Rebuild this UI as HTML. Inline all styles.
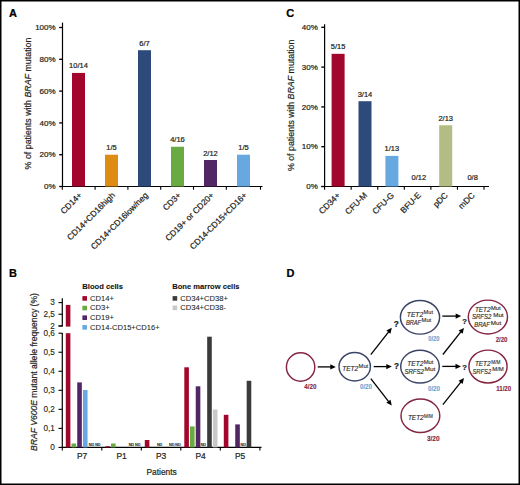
<!DOCTYPE html>
<html><head><meta charset="utf-8"><style>
html,body{margin:0;padding:0;background:#fff;width:520px;height:485px;overflow:hidden}
svg{display:block}
text{font-family:"Liberation Sans",sans-serif}
</style></head><body>
<svg width="520" height="485" viewBox="0 0 520 485">
<rect x="0" y="0" width="520" height="485" fill="#fff"/>
<text x="9.00" y="16.90" font-size="11" font-weight="bold" fill="#000" stroke="#000" stroke-width="0.22">A</text>
<line x1="62.50" y1="22.60" x2="62.50" y2="187.10" stroke="#000" stroke-width="1.2"/>
<line x1="59.20" y1="186.50" x2="62.50" y2="186.50" stroke="#000" stroke-width="1.35"/>
<text x="55.60" y="189.10" font-size="8" text-anchor="end" fill="#231f20" stroke="#231f20" stroke-width="0.22">0%</text>
<line x1="59.20" y1="154.70" x2="62.50" y2="154.70" stroke="#000" stroke-width="1.35"/>
<text x="55.60" y="157.30" font-size="8" text-anchor="end" fill="#231f20" stroke="#231f20" stroke-width="0.22">20%</text>
<line x1="59.20" y1="122.90" x2="62.50" y2="122.90" stroke="#000" stroke-width="1.35"/>
<text x="55.60" y="125.50" font-size="8" text-anchor="end" fill="#231f20" stroke="#231f20" stroke-width="0.22">40%</text>
<line x1="59.20" y1="91.10" x2="62.50" y2="91.10" stroke="#000" stroke-width="1.35"/>
<text x="55.60" y="93.70" font-size="8" text-anchor="end" fill="#231f20" stroke="#231f20" stroke-width="0.22">60%</text>
<line x1="59.20" y1="59.30" x2="62.50" y2="59.30" stroke="#000" stroke-width="1.35"/>
<text x="55.60" y="61.90" font-size="8" text-anchor="end" fill="#231f20" stroke="#231f20" stroke-width="0.22">80%</text>
<line x1="59.20" y1="27.50" x2="62.50" y2="27.50" stroke="#000" stroke-width="1.35"/>
<text x="55.60" y="30.10" font-size="8" text-anchor="end" fill="#231f20" stroke="#231f20" stroke-width="0.22">100%</text>
<line x1="61.90" y1="186.50" x2="262.50" y2="186.50" stroke="#000" stroke-width="1.2"/>
<line x1="62.30" y1="186.50" x2="62.30" y2="189.70" stroke="#000" stroke-width="1.1"/>
<line x1="95.10" y1="186.50" x2="95.10" y2="189.70" stroke="#000" stroke-width="1.1"/>
<line x1="127.90" y1="186.50" x2="127.90" y2="189.70" stroke="#000" stroke-width="1.1"/>
<line x1="160.70" y1="186.50" x2="160.70" y2="189.70" stroke="#000" stroke-width="1.1"/>
<line x1="193.50" y1="186.50" x2="193.50" y2="189.70" stroke="#000" stroke-width="1.1"/>
<line x1="226.30" y1="186.50" x2="226.30" y2="189.70" stroke="#000" stroke-width="1.1"/>
<line x1="260.50" y1="186.50" x2="260.50" y2="189.70" stroke="#000" stroke-width="1.1"/>
<rect x="72.00" y="72.93" width="13.00" height="113.57" fill="#a3062c"/>
<text x="78.50" y="68.43" font-size="7.5" text-anchor="middle" fill="#231f20" stroke="#231f20" stroke-width="0.22">10/14</text>
<text x="82.50" y="195.80" font-size="8.4" text-anchor="end" fill="#231f20" stroke="#231f20" stroke-width="0.22" transform="rotate(-45 82.50 195.80)">CD14+</text>
<rect x="105.00" y="154.70" width="13.00" height="31.80" fill="#de8c14"/>
<text x="111.50" y="150.20" font-size="7.5" text-anchor="middle" fill="#231f20" stroke="#231f20" stroke-width="0.22">1/5</text>
<text x="115.50" y="195.80" font-size="8.4" text-anchor="end" fill="#231f20" stroke="#231f20" stroke-width="0.22" transform="rotate(-45 115.50 195.80)">CD14+CD16high</text>
<rect x="138.00" y="50.21" width="13.00" height="136.29" fill="#2d4a7a"/>
<text x="144.50" y="45.71" font-size="7.5" text-anchor="middle" fill="#231f20" stroke="#231f20" stroke-width="0.22">6/7</text>
<text x="148.50" y="195.80" font-size="8.4" text-anchor="end" fill="#231f20" stroke="#231f20" stroke-width="0.22" transform="rotate(-45 148.50 195.80)">CD14+CD16low/neg</text>
<rect x="171.00" y="146.75" width="13.00" height="39.75" fill="#6aaa42"/>
<text x="177.50" y="142.25" font-size="7.5" text-anchor="middle" fill="#231f20" stroke="#231f20" stroke-width="0.22">4/16</text>
<text x="181.50" y="195.80" font-size="8.4" text-anchor="end" fill="#231f20" stroke="#231f20" stroke-width="0.22" transform="rotate(-45 181.50 195.80)">CD3+</text>
<rect x="204.00" y="160.00" width="13.00" height="26.50" fill="#522664"/>
<text x="210.50" y="155.50" font-size="7.5" text-anchor="middle" fill="#231f20" stroke="#231f20" stroke-width="0.22">2/12</text>
<text x="214.50" y="195.80" font-size="8.4" text-anchor="end" fill="#231f20" stroke="#231f20" stroke-width="0.22" transform="rotate(-45 214.50 195.80)">CD19+ or CD20+</text>
<rect x="237.00" y="154.70" width="13.00" height="31.80" fill="#68a8e0"/>
<text x="243.50" y="150.20" font-size="7.5" text-anchor="middle" fill="#231f20" stroke="#231f20" stroke-width="0.22">1/5</text>
<text x="247.50" y="195.80" font-size="8.4" text-anchor="end" fill="#231f20" stroke="#231f20" stroke-width="0.22" transform="rotate(-45 247.50 195.80)">CD14-CD15+CD16+</text>
<text x="30.7" y="169.4" font-size="9.4" fill="#231f20" stroke="#231f20" stroke-width="0.2" textLength="131.8" lengthAdjust="spacingAndGlyphs" transform="rotate(-90 30.7 169.4)">% of patients with <tspan font-style="italic">BRAF</tspan> mutation</text>
<text x="286.30" y="16.90" font-size="11" font-weight="bold" fill="#000" stroke="#000" stroke-width="0.22">C</text>
<line x1="324.60" y1="24.20" x2="324.60" y2="187.10" stroke="#000" stroke-width="1.2"/>
<line x1="321.30" y1="186.50" x2="324.60" y2="186.50" stroke="#000" stroke-width="1.35"/>
<text x="317.80" y="189.10" font-size="8" text-anchor="end" fill="#231f20" stroke="#231f20" stroke-width="0.22">0%</text>
<line x1="321.30" y1="146.70" x2="324.60" y2="146.70" stroke="#000" stroke-width="1.35"/>
<text x="317.80" y="149.30" font-size="8" text-anchor="end" fill="#231f20" stroke="#231f20" stroke-width="0.22">10%</text>
<line x1="321.30" y1="106.90" x2="324.60" y2="106.90" stroke="#000" stroke-width="1.35"/>
<text x="317.80" y="109.50" font-size="8" text-anchor="end" fill="#231f20" stroke="#231f20" stroke-width="0.22">20%</text>
<line x1="321.30" y1="67.10" x2="324.60" y2="67.10" stroke="#000" stroke-width="1.35"/>
<text x="317.80" y="69.70" font-size="8" text-anchor="end" fill="#231f20" stroke="#231f20" stroke-width="0.22">30%</text>
<line x1="321.30" y1="27.30" x2="324.60" y2="27.30" stroke="#000" stroke-width="1.35"/>
<text x="317.80" y="29.90" font-size="8" text-anchor="end" fill="#231f20" stroke="#231f20" stroke-width="0.22">40%</text>
<line x1="321.30" y1="186.50" x2="489.00" y2="186.50" stroke="#000" stroke-width="1.2"/>
<line x1="324.60" y1="186.50" x2="324.60" y2="189.70" stroke="#000" stroke-width="1.1"/>
<line x1="351.17" y1="186.50" x2="351.17" y2="189.70" stroke="#000" stroke-width="1.1"/>
<line x1="377.74" y1="186.50" x2="377.74" y2="189.70" stroke="#000" stroke-width="1.1"/>
<line x1="404.31" y1="186.50" x2="404.31" y2="189.70" stroke="#000" stroke-width="1.1"/>
<line x1="430.88" y1="186.50" x2="430.88" y2="189.70" stroke="#000" stroke-width="1.1"/>
<line x1="457.45" y1="186.50" x2="457.45" y2="189.70" stroke="#000" stroke-width="1.1"/>
<line x1="484.02" y1="186.50" x2="484.02" y2="189.70" stroke="#000" stroke-width="1.1"/>
<rect x="331.60" y="53.83" width="13.00" height="132.67" fill="#a3062c"/>
<text x="338.10" y="49.33" font-size="7.5" text-anchor="middle" fill="#231f20" stroke="#231f20" stroke-width="0.22">5/15</text>
<text x="340.80" y="195.90" font-size="8.4" text-anchor="end" fill="#231f20" stroke="#231f20" stroke-width="0.22" transform="rotate(-45 340.80 195.90)">CD34+</text>
<rect x="358.50" y="101.21" width="13.00" height="85.29" fill="#2d4a7a"/>
<text x="365.00" y="96.71" font-size="7.5" text-anchor="middle" fill="#231f20" stroke="#231f20" stroke-width="0.22">3/14</text>
<text x="367.70" y="195.90" font-size="8.4" text-anchor="end" fill="#231f20" stroke="#231f20" stroke-width="0.22" transform="rotate(-45 367.70 195.90)">CFU-M</text>
<rect x="385.40" y="155.88" width="13.00" height="30.62" fill="#68a8e0"/>
<text x="391.90" y="151.38" font-size="7.5" text-anchor="middle" fill="#231f20" stroke="#231f20" stroke-width="0.22">1/13</text>
<text x="394.60" y="195.90" font-size="8.4" text-anchor="end" fill="#231f20" stroke="#231f20" stroke-width="0.22" transform="rotate(-45 394.60 195.90)">CFU-G</text>
<text x="418.80" y="180.00" font-size="7.5" text-anchor="middle" fill="#231f20" stroke="#231f20" stroke-width="0.22">0/12</text>
<text x="421.50" y="195.90" font-size="8.4" text-anchor="end" fill="#231f20" stroke="#231f20" stroke-width="0.22" transform="rotate(-45 421.50 195.90)">BFU-E</text>
<rect x="439.20" y="125.27" width="13.00" height="61.23" fill="#b2bc84"/>
<text x="445.70" y="120.77" font-size="7.5" text-anchor="middle" fill="#231f20" stroke="#231f20" stroke-width="0.22">2/13</text>
<text x="448.40" y="195.90" font-size="8.4" text-anchor="end" fill="#231f20" stroke="#231f20" stroke-width="0.22" transform="rotate(-45 448.40 195.90)">pDC</text>
<text x="472.60" y="180.00" font-size="7.5" text-anchor="middle" fill="#231f20" stroke="#231f20" stroke-width="0.22">0/8</text>
<text x="475.30" y="195.90" font-size="8.4" text-anchor="end" fill="#231f20" stroke="#231f20" stroke-width="0.22" transform="rotate(-45 475.30 195.90)">mDC</text>
<text x="294.2" y="171.1" font-size="9.4" fill="#231f20" stroke="#231f20" stroke-width="0.2" textLength="131.5" lengthAdjust="spacingAndGlyphs" transform="rotate(-90 294.2 171.1)">% of patients with <tspan font-style="italic">BRAF</tspan> mutation</text>
<text x="9.00" y="276.90" font-size="11" font-weight="bold" fill="#000" stroke="#000" stroke-width="0.22">B</text>
<line x1="62.30" y1="298.20" x2="62.30" y2="326.40" stroke="#000" stroke-width="1.2"/>
<line x1="58.50" y1="302.60" x2="62.30" y2="302.60" stroke="#000" stroke-width="1.1"/>
<text x="54.90" y="305.30" font-size="8.2" text-anchor="end" fill="#231f20" stroke="#231f20" stroke-width="0.12">3</text>
<line x1="58.50" y1="314.25" x2="62.30" y2="314.25" stroke="#000" stroke-width="1.1"/>
<text x="54.90" y="316.95" font-size="8.2" text-anchor="end" fill="#231f20" stroke="#231f20" stroke-width="0.12">2,5</text>
<line x1="58.50" y1="325.90" x2="62.30" y2="325.90" stroke="#000" stroke-width="1.1"/>
<text x="54.90" y="328.60" font-size="8.2" text-anchor="end" fill="#231f20" stroke="#231f20" stroke-width="0.12">2</text>
<line x1="58.50" y1="326.00" x2="62.30" y2="326.00" stroke="#000" stroke-width="1.1"/>
<line x1="62.30" y1="333.00" x2="62.30" y2="447.40" stroke="#000" stroke-width="1.2"/>
<line x1="58.50" y1="447.40" x2="62.30" y2="447.40" stroke="#000" stroke-width="1.1"/>
<text x="54.90" y="450.10" font-size="8.2" text-anchor="end" fill="#231f20" stroke="#231f20" stroke-width="0.12">0</text>
<line x1="58.50" y1="428.37" x2="62.30" y2="428.37" stroke="#000" stroke-width="1.1"/>
<text x="54.90" y="431.07" font-size="8.2" text-anchor="end" fill="#231f20" stroke="#231f20" stroke-width="0.12">0,1</text>
<line x1="58.50" y1="409.34" x2="62.30" y2="409.34" stroke="#000" stroke-width="1.1"/>
<text x="54.90" y="412.04" font-size="8.2" text-anchor="end" fill="#231f20" stroke="#231f20" stroke-width="0.12">0,2</text>
<line x1="58.50" y1="390.31" x2="62.30" y2="390.31" stroke="#000" stroke-width="1.1"/>
<text x="54.90" y="393.01" font-size="8.2" text-anchor="end" fill="#231f20" stroke="#231f20" stroke-width="0.12">0,3</text>
<line x1="58.50" y1="371.28" x2="62.30" y2="371.28" stroke="#000" stroke-width="1.1"/>
<text x="54.90" y="373.98" font-size="8.2" text-anchor="end" fill="#231f20" stroke="#231f20" stroke-width="0.12">0,4</text>
<line x1="58.50" y1="352.25" x2="62.30" y2="352.25" stroke="#000" stroke-width="1.1"/>
<text x="54.90" y="354.95" font-size="8.2" text-anchor="end" fill="#231f20" stroke="#231f20" stroke-width="0.12">0,5</text>
<line x1="58.50" y1="333.22" x2="62.30" y2="333.22" stroke="#000" stroke-width="1.1"/>
<text x="54.90" y="335.92" font-size="8.2" text-anchor="end" fill="#231f20" stroke="#231f20" stroke-width="0.12">0,6</text>
<line x1="61.70" y1="447.40" x2="261.50" y2="447.40" stroke="#000" stroke-width="1.2"/>
<line x1="62.30" y1="447.40" x2="62.30" y2="450.60" stroke="#000" stroke-width="1.1"/>
<line x1="101.80" y1="447.40" x2="101.80" y2="450.60" stroke="#000" stroke-width="1.1"/>
<line x1="141.30" y1="447.40" x2="141.30" y2="450.60" stroke="#000" stroke-width="1.1"/>
<line x1="180.80" y1="447.40" x2="180.80" y2="450.60" stroke="#000" stroke-width="1.1"/>
<line x1="220.30" y1="447.40" x2="220.30" y2="450.60" stroke="#000" stroke-width="1.1"/>
<line x1="259.90" y1="447.40" x2="259.90" y2="450.60" stroke="#000" stroke-width="1.1"/>
<rect x="65.80" y="333.20" width="4.60" height="114.20" fill="#a3062c"/>
<rect x="65.80" y="304.93" width="4.60" height="21.67" fill="#a3062c"/>
<rect x="71.52" y="443.50" width="4.60" height="3.90" fill="#6aaa42"/>
<rect x="77.24" y="382.40" width="4.60" height="65.00" fill="#522664"/>
<rect x="82.96" y="390.00" width="4.60" height="57.40" fill="#68a8e0"/>
<text x="82.05" y="459.10" font-size="8.4" text-anchor="middle" fill="#231f20" stroke="#231f20" stroke-width="0.22">P7</text>
<rect x="105.30" y="446.20" width="4.60" height="1.20" fill="#a3062c"/>
<rect x="111.02" y="443.50" width="4.60" height="3.90" fill="#6aaa42"/>
<text x="121.55" y="459.10" font-size="8.4" text-anchor="middle" fill="#231f20" stroke="#231f20" stroke-width="0.22">P1</text>
<rect x="144.80" y="440.00" width="4.60" height="7.40" fill="#a3062c"/>
<text x="161.05" y="459.10" font-size="8.4" text-anchor="middle" fill="#231f20" stroke="#231f20" stroke-width="0.22">P3</text>
<rect x="184.30" y="367.30" width="4.60" height="80.10" fill="#a3062c"/>
<rect x="190.02" y="426.40" width="4.60" height="21.00" fill="#6aaa42"/>
<rect x="195.74" y="386.30" width="4.60" height="61.10" fill="#522664"/>
<rect x="207.18" y="336.70" width="4.60" height="110.70" fill="#3c3b3c"/>
<rect x="212.90" y="409.50" width="4.60" height="37.90" fill="#c8c8c8"/>
<text x="200.55" y="459.10" font-size="8.4" text-anchor="middle" fill="#231f20" stroke="#231f20" stroke-width="0.22">P4</text>
<rect x="223.80" y="414.80" width="4.60" height="32.60" fill="#a3062c"/>
<rect x="235.24" y="424.40" width="4.60" height="23.00" fill="#522664"/>
<rect x="246.68" y="380.80" width="4.60" height="66.60" fill="#3c3b3c"/>
<text x="240.05" y="459.10" font-size="8.4" text-anchor="middle" fill="#231f20" stroke="#231f20" stroke-width="0.22">P5</text>
<text x="88.80" y="445.80" font-size="3.7" fill="#000" stroke="#000" stroke-width="0.15">ND ND</text>
<text x="128.70" y="445.80" font-size="3.7" fill="#000" stroke="#000" stroke-width="0.15">ND ND</text>
<text x="156.90" y="445.80" font-size="3.7" fill="#000" stroke="#000" stroke-width="0.15">ND</text>
<text x="169.00" y="445.80" font-size="3.7" fill="#000" stroke="#000" stroke-width="0.15">ND ND</text>
<text x="200.70" y="445.80" font-size="3.7" fill="#000" stroke="#000" stroke-width="0.15">ND</text>
<text x="240.50" y="445.80" font-size="3.7" fill="#000" stroke="#000" stroke-width="0.15">ND</text>
<text x="146.40" y="475.10" font-size="9.6" fill="#231f20" stroke="#231f20" stroke-width="0.22" textLength="30.4" lengthAdjust="spacingAndGlyphs">Patients</text>
<text x="82.30" y="289.10" font-size="7.8" font-weight="bold" fill="#111" stroke="#111" stroke-width="0.1" textLength="40.6" lengthAdjust="spacingAndGlyphs">Blood cells</text>
<rect x="82.40" y="296.10" width="4.60" height="4.60" fill="#a3062c"/>
<text x="90.00" y="300.80" font-size="7.6" fill="#231f20" stroke="#231f20" stroke-width="0.08">CD14+</text>
<rect x="82.40" y="305.75" width="4.60" height="4.60" fill="#6aaa42"/>
<text x="90.00" y="310.45" font-size="7.6" fill="#231f20" stroke="#231f20" stroke-width="0.08">CD3+</text>
<rect x="82.40" y="315.40" width="4.60" height="4.60" fill="#522664"/>
<text x="90.00" y="320.10" font-size="7.6" fill="#231f20" stroke="#231f20" stroke-width="0.08">CD19+</text>
<rect x="82.40" y="325.05" width="4.60" height="4.60" fill="#68a8e0"/>
<text x="90.00" y="329.75" font-size="7.6" fill="#231f20" stroke="#231f20" stroke-width="0.08">CD14-CD15+CD16+</text>
<text x="172.30" y="289.10" font-size="7.8" font-weight="bold" fill="#111" stroke="#111" stroke-width="0.1" textLength="67.2" lengthAdjust="spacingAndGlyphs">Bone marrow cells</text>
<rect x="172.60" y="296.10" width="4.60" height="4.60" fill="#3c3b3c"/>
<text x="180.20" y="300.80" font-size="7.6" fill="#231f20" stroke="#231f20" stroke-width="0.08">CD34+CD38+</text>
<rect x="172.60" y="305.50" width="4.60" height="4.60" fill="#c8c8c8"/>
<text x="180.20" y="310.20" font-size="7.6" fill="#231f20" stroke="#231f20" stroke-width="0.08">CD34+CD38-</text>
<text x="37.4" y="451.0" font-size="9.4" fill="#231f20" stroke="#231f20" stroke-width="0.2" textLength="158.0" lengthAdjust="spacingAndGlyphs" transform="rotate(-90 37.4 451.0)"><tspan font-style="italic">BRAF V600E</tspan> mutant allele frequency (%)</text>
<text x="286.40" y="277.30" font-size="11" font-weight="bold" fill="#000" stroke="#000" stroke-width="0.22">D</text>
<ellipse cx="300.6" cy="367" rx="14.2" ry="14.2" fill="none" stroke="#842541" stroke-width="1.45"/>
<ellipse cx="354.7" cy="366.7" rx="15.7" ry="14.2" fill="none" stroke="#3b4466" stroke-width="1.45"/>
<ellipse cx="420" cy="317.3" rx="19.6" ry="16.8" fill="none" stroke="#3b4466" stroke-width="1.45"/>
<ellipse cx="420" cy="366.6" rx="19.3" ry="16.4" fill="none" stroke="#3b4466" stroke-width="1.45"/>
<ellipse cx="420.4" cy="415.8" rx="19.4" ry="16.7" fill="none" stroke="#842541" stroke-width="1.45"/>
<ellipse cx="487.9" cy="317" rx="19.6" ry="16.9" fill="none" stroke="#842541" stroke-width="1.45"/>
<ellipse cx="488" cy="366.5" rx="19.1" ry="16.4" fill="none" stroke="#842541" stroke-width="1.45"/>
<line x1="317.70" y1="366.90" x2="331.30" y2="366.90" stroke="#000" stroke-width="1.3"/>
<polygon points="335.80,366.90 330.30,369.50 330.30,364.30" fill="#000"/>
<line x1="373.70" y1="366.60" x2="387.30" y2="366.60" stroke="#000" stroke-width="1.3"/>
<polygon points="391.80,366.60 386.30,369.20 386.30,364.00" fill="#000"/>
<line x1="370.80" y1="354.60" x2="389.02" y2="331.34" stroke="#000" stroke-width="1.3"/>
<polygon points="391.80,327.80 390.45,333.73 386.36,330.53" fill="#000"/>
<line x1="370.80" y1="378.60" x2="389.04" y2="402.05" stroke="#000" stroke-width="1.3"/>
<polygon points="391.80,405.60 386.37,402.85 390.48,399.66" fill="#000"/>
<line x1="442.30" y1="316.10" x2="456.70" y2="316.10" stroke="#000" stroke-width="1.3"/>
<polygon points="461.20,316.10 455.70,318.70 455.70,313.50" fill="#000"/>
<line x1="442.90" y1="354.50" x2="461.20" y2="331.43" stroke="#000" stroke-width="1.3"/>
<polygon points="464.00,327.90 462.62,333.82 458.55,330.59" fill="#000"/>
<line x1="442.30" y1="366.40" x2="456.50" y2="366.40" stroke="#000" stroke-width="1.3"/>
<polygon points="461.00,366.40 455.50,369.00 455.50,363.80" fill="#000"/>
<line x1="442.90" y1="404.60" x2="461.20" y2="381.53" stroke="#000" stroke-width="1.3"/>
<polygon points="464.00,378.00 462.62,383.92 458.55,380.69" fill="#000"/>
<text x="393.80" y="327.10" font-size="8.2" font-weight="bold" fill="#1a1a1a" stroke="#1a1a1a" stroke-width="0.22">?</text>
<text x="393.90" y="368.90" font-size="8.2" font-weight="bold" fill="#1a1a1a" stroke="#1a1a1a" stroke-width="0.22">?</text>
<text x="462.20" y="323.70" font-size="7.6" font-weight="bold" fill="#1a1a1a" stroke="#1a1a1a" stroke-width="0.22">?</text>
<text x="462.20" y="369.60" font-size="7.6" font-weight="bold" fill="#1a1a1a" stroke="#1a1a1a" stroke-width="0.22">?</text>
<text x="304.30" y="388.90" font-size="6.8" font-weight="bold" fill="#842541" stroke="#842541" stroke-width="0.1" textLength="12.2" lengthAdjust="spacingAndGlyphs">4/20</text>
<text x="359.90" y="388.70" font-size="6.8" font-weight="bold" fill="#6fa3d2" stroke="#6fa3d2" stroke-width="0.1" textLength="12.2" lengthAdjust="spacingAndGlyphs">0/20</text>
<text x="428.20" y="340.70" font-size="6.8" font-weight="bold" fill="#6fa3d2" stroke="#6fa3d2" stroke-width="0.1" textLength="11.4" lengthAdjust="spacingAndGlyphs">0/20</text>
<text x="427.90" y="390.60" font-size="6.8" font-weight="bold" fill="#6fa3d2" stroke="#6fa3d2" stroke-width="0.1" textLength="12.2" lengthAdjust="spacingAndGlyphs">0/20</text>
<text x="426.90" y="440.60" font-size="6.8" font-weight="bold" fill="#842541" stroke="#842541" stroke-width="0.1" textLength="12.8" lengthAdjust="spacingAndGlyphs">3/20</text>
<text x="495.70" y="341.50" font-size="6.8" font-weight="bold" fill="#842541" stroke="#842541" stroke-width="0.1" textLength="11.8" lengthAdjust="spacingAndGlyphs">2/20</text>
<text x="496.20" y="391.20" font-size="6.8" font-weight="bold" fill="#842541" stroke="#842541" stroke-width="0.1" textLength="15.0" lengthAdjust="spacingAndGlyphs">11/20</text>
<text x="342.20" y="370.70" font-size="6.8" font-style="italic" fill="#2a2a2a" stroke="#2a2a2a" stroke-width="0.15" textLength="16.0" lengthAdjust="spacingAndGlyphs">TET2</text>
<text x="358.60" y="368.20" font-size="4.8" fill="#2a2a2a" stroke="#2a2a2a" stroke-width="0.1" textLength="9.6" lengthAdjust="spacingAndGlyphs">Mut</text>
<text x="406.80" y="316.70" font-size="6.8" font-style="italic" fill="#2a2a2a" stroke="#2a2a2a" stroke-width="0.15" textLength="16.4" lengthAdjust="spacingAndGlyphs">TET2</text>
<text x="423.60" y="314.20" font-size="4.8" fill="#2a2a2a" stroke="#2a2a2a" stroke-width="0.1" textLength="9.4" lengthAdjust="spacingAndGlyphs">Mut</text>
<text x="405.90" y="324.50" font-size="6.8" font-style="italic" fill="#2a2a2a" stroke="#2a2a2a" stroke-width="0.15" textLength="15.2" lengthAdjust="spacingAndGlyphs">BRAF</text>
<text x="421.60" y="322.00" font-size="4.8" fill="#2a2a2a" stroke="#2a2a2a" stroke-width="0.1" textLength="9.6" lengthAdjust="spacingAndGlyphs">Mut</text>
<text x="407.30" y="366.00" font-size="6.8" font-style="italic" fill="#2a2a2a" stroke="#2a2a2a" stroke-width="0.15" textLength="16.0" lengthAdjust="spacingAndGlyphs">TET2</text>
<text x="423.80" y="363.50" font-size="4.8" fill="#2a2a2a" stroke="#2a2a2a" stroke-width="0.1" textLength="9.6" lengthAdjust="spacingAndGlyphs">Mut</text>
<text x="404.40" y="373.80" font-size="6.8" font-style="italic" fill="#2a2a2a" stroke="#2a2a2a" stroke-width="0.15" textLength="19.6" lengthAdjust="spacingAndGlyphs">SRFS2</text>
<text x="424.60" y="371.30" font-size="4.8" fill="#2a2a2a" stroke="#2a2a2a" stroke-width="0.1" textLength="10.8" lengthAdjust="spacingAndGlyphs">Mut</text>
<text x="407.90" y="420.00" font-size="6.8" font-style="italic" fill="#2a2a2a" stroke="#2a2a2a" stroke-width="0.15" textLength="15.8" lengthAdjust="spacingAndGlyphs">TET2</text>
<text x="424.00" y="417.50" font-size="4.8" fill="#2a2a2a" stroke="#2a2a2a" stroke-width="0.1" textLength="8.8" lengthAdjust="spacingAndGlyphs">M/M</text>
<text x="474.90" y="312.00" font-size="6.8" font-style="italic" fill="#2a2a2a" stroke="#2a2a2a" stroke-width="0.15" textLength="15.6" lengthAdjust="spacingAndGlyphs">TET2</text>
<text x="491.00" y="309.50" font-size="4.8" fill="#2a2a2a" stroke="#2a2a2a" stroke-width="0.1" textLength="9.6" lengthAdjust="spacingAndGlyphs">Mut</text>
<text x="471.90" y="319.30" font-size="6.8" font-style="italic" fill="#2a2a2a" stroke="#2a2a2a" stroke-width="0.15" textLength="19.4" lengthAdjust="spacingAndGlyphs">SRFS2</text>
<text x="493.20" y="316.80" font-size="4.8" fill="#2a2a2a" stroke="#2a2a2a" stroke-width="0.1" textLength="10.4" lengthAdjust="spacingAndGlyphs">Mut</text>
<text x="474.30" y="327.20" font-size="6.8" font-style="italic" fill="#2a2a2a" stroke="#2a2a2a" stroke-width="0.15" textLength="15.5" lengthAdjust="spacingAndGlyphs">BRAF</text>
<text x="490.80" y="324.70" font-size="4.8" fill="#2a2a2a" stroke="#2a2a2a" stroke-width="0.1" textLength="10.4" lengthAdjust="spacingAndGlyphs">Mut</text>
<text x="474.90" y="366.10" font-size="6.8" font-style="italic" fill="#2a2a2a" stroke="#2a2a2a" stroke-width="0.15" textLength="15.6" lengthAdjust="spacingAndGlyphs">TET2</text>
<text x="491.30" y="363.60" font-size="4.8" fill="#2a2a2a" stroke="#2a2a2a" stroke-width="0.1" textLength="9.2" lengthAdjust="spacingAndGlyphs">M/M</text>
<text x="472.50" y="373.70" font-size="6.8" font-style="italic" fill="#2a2a2a" stroke="#2a2a2a" stroke-width="0.15" textLength="18.6" lengthAdjust="spacingAndGlyphs">SRFS2</text>
<text x="492.20" y="371.20" font-size="4.8" fill="#2a2a2a" stroke="#2a2a2a" stroke-width="0.1" textLength="11.6" lengthAdjust="spacingAndGlyphs">M/M</text>
<rect x="0.75" y="0.75" width="518.5" height="483.5" fill="none" stroke="#000" stroke-width="1.5"/>
</svg>
</body></html>
